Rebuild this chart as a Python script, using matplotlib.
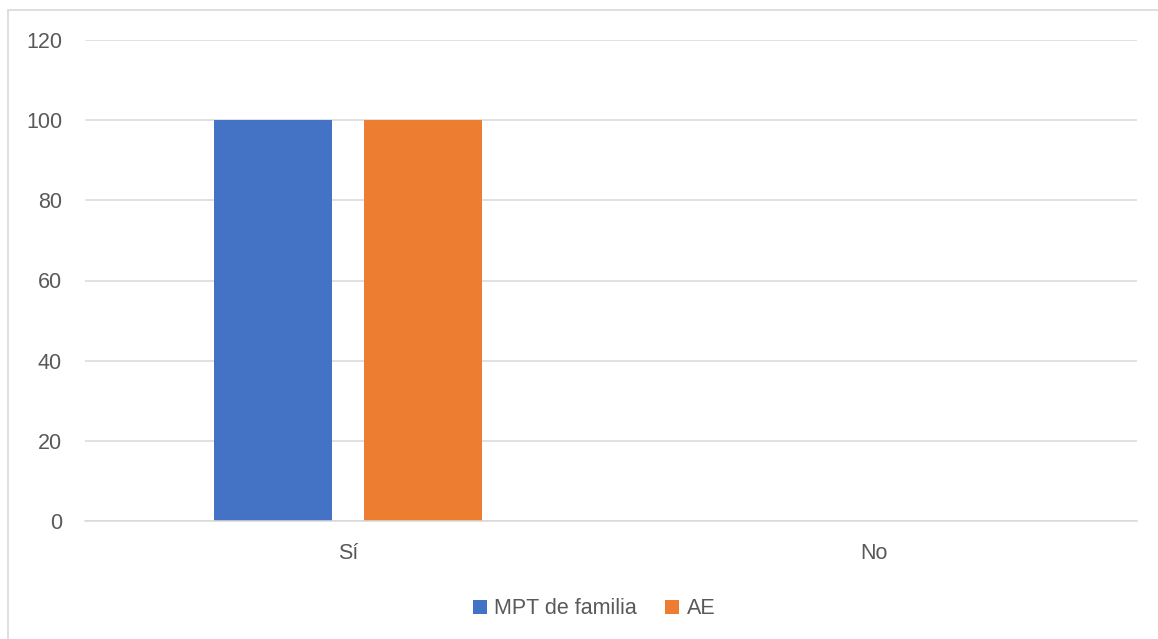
import numpy as np
import matplotlib
matplotlib.use("Agg")
import matplotlib.pyplot as plt
from matplotlib.patches import Rectangle

plt.rcParams['font.family'] = ['Liberation Sans', 'DejaVu Sans']

categories = ["Sí", "No"]
series_names = ["MPT de familia", "AE"]
mpt_familia = [100, 0]
ae = [100, 0]
colors = ["#4472C4", "#ED7D31"]

W, H = 1158, 639
fig = plt.figure(figsize=(W / 100, H / 100), dpi=100)
ax = fig.add_axes([85 / W, 1 - 521 / H, (1137 - 85) / W, (521 - 40) / H])

x = np.arange(len(categories))
bar_w = 0.226
offset = 0.1426
ax.bar(x - offset, mpt_familia, bar_w, color=colors[0], label=series_names[0], zorder=3)
ax.bar(x + offset, ae, bar_w, color=colors[1], label=series_names[1], zorder=3)

ax.set_xlim(-0.5, len(categories) - 0.5)
ax.set_ylim(0, 120)
ax.set_yticks(np.arange(0, 121, 20))
ax.set_xticks(x)
ax.set_xticklabels(categories)

grid_c = "#d9d9d9"
ax.yaxis.grid(True, color=grid_c, linewidth=1.1, zorder=0)
ax.set_axisbelow(True)
for s in ["top", "right", "left"]:
    ax.spines[s].set_visible(False)
ax.spines["bottom"].set_color(grid_c)
ax.spines["bottom"].set_linewidth(1.1)
ax.spines["bottom"].set_zorder(4)
ax.tick_params(axis="both", length=0, labelsize=15.5, colors="#595959")
ax.tick_params(axis="y", pad=16.5)
ax.tick_params(axis="x", pad=16)

leg = fig.legend(loc="center", bbox_to_anchor=(594 / W, 1 - 609 / H), ncol=2,
                 frameon=False, fontsize=15.5, handlelength=0.65, handleheight=0.65,
                 handletextpad=0.35, columnspacing=1.3, labelcolor="#595959")

# outer chart frame
fig.patches.append(Rectangle((8 / W, -0.01), 1.02, 1 - 10 / H + 0.01,
                             transform=fig.transFigure, fill=False,
                             edgecolor=grid_c, linewidth=1.2))

fig.savefig("out.png", dpi=100, facecolor="white")
